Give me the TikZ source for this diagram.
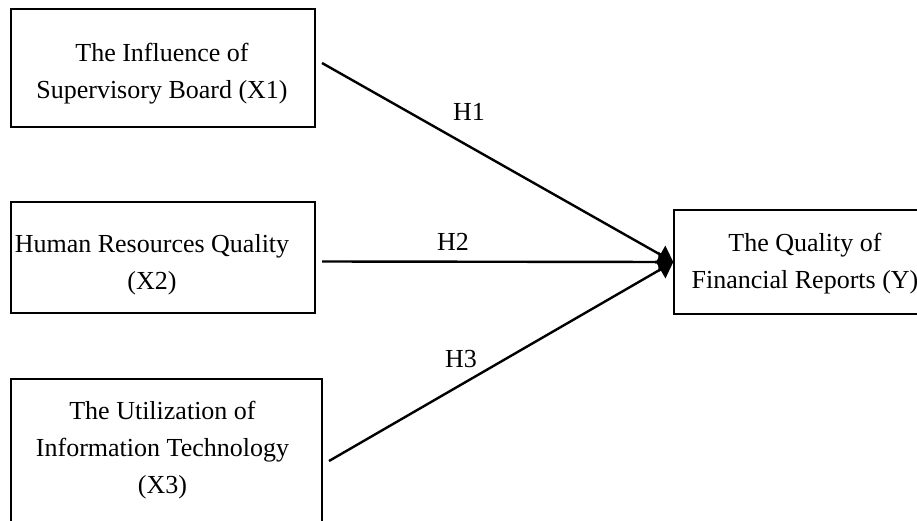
\documentclass[tikz,border=0pt]{standalone}
\usepackage{fontspec}
\setmainfont{Liberation Serif}
\usetikzlibrary{arrows.meta}
\begin{document}
\begin{tikzpicture}[x=1pt,y=-1pt,
  box/.style={draw,line width=1.4pt,rectangle,inner sep=0pt},
  txt/.style={align=center,font=\fontsize{26}{37}\selectfont,inner sep=0pt},
  link/.style={line width=2.4pt,-{Triangle[length=15pt,width=20pt]}},
  lab/.style={font=\fontsize{26}{30}\selectfont,inner sep=0pt}]
\useasboundingbox (0,0) rectangle (917,520);
\fill[white] (0,0) rectangle (917,520);
\clip (0,0) rectangle (917,520);
% boxes
\node[box,minimum width=304pt,minimum height=118pt] (b1) at (163,68) {};
\node[box,minimum width=304pt,minimum height=111pt] (b2) at (163,257.5) {};
\node[box,minimum width=311pt,minimum height=156pt] (b3) at (166.5,457) {};
\node[box,minimum width=262pt,minimum height=104pt] (by) at (805,262) {};
% texts
\node[txt] (t1) at (162,73.5) {The Influence of\\Supervisory Board (X1)};
\node[txt] (t2) at (152,265) {Human Resources Quality\\(X2)};
\node[txt] (t3) at (162.5,450) {The Utilization of\\Information Technology\\(X3)};
\node[txt] (ty) at (805,264) {The Quality of\\Financial Reports (Y)};
% connector start points
\coordinate (s1) at (322,63);
\coordinate (s2) at (322,261.5);
\coordinate (s3) at (329,461);
\draw[link] (s1) -- (by.west);
\draw[link] (s2) -- (by.west);
\draw[link] (s3) -- (by.west);
% labels
\node[lab] (h1) at (469,112) {H1};
\node[lab] (h2) at (453,242) {H2};
\node[lab] (h3) at (461,359) {H3};
\end{tikzpicture}
\end{document}
